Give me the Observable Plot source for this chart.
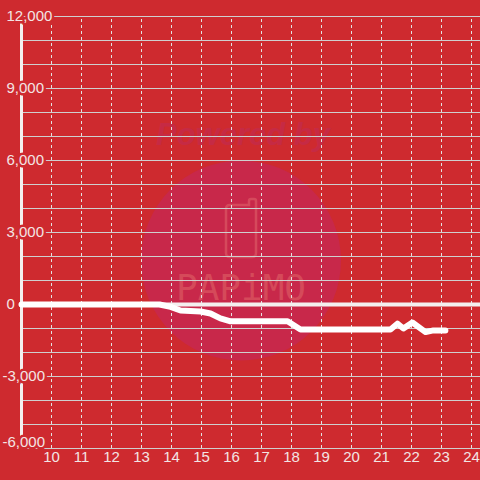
<!DOCTYPE html>
<html>
<head>
<meta charset="utf-8">
<script src="https://cdn.jsdelivr.net/npm/d3@7"></script>
<script src="https://cdn.jsdelivr.net/npm/@observablehq/plot@0.6"></script>
<style>
  html, body { margin: 0; padding: 0; background: #ce2a2f; }
  #chart { width: 480px; height: 480px; }
</style>
</head>
<body>
<div id="chart"></div>
<script>
// ---- data ----
const hours = [9, 13.6, 13.97, 14.3, 14.97, 15.3, 15.63, 15.97, 17.87, 18.3, 21.3, 21.53, 21.73, 22.03, 22.47, 22.73, 23.13];
const values = [0, 0, -100, -250, -290, -375, -580, -700, -700, -1040, -1040, -800, -1000, -750, -1150, -1080, -1080];
const xTicks = [10, 11, 12, 13, 14, 15, 16, 17, 18, 19, 20, 21, 22, 23, 24];
const yTicks = [12000, 9000, 6000, 3000, 0, -3000, -6000];
const yGrid = d3.range(-6000, 12001, 1000);

const data = hours.map((h, i) => ({hour: h, value: values[i]}));

const BG = "#ce2a2f";
const LABEL = "#f3e4e4";
const font = "Liberation Sans, Arial, sans-serif";
const fmt = d => d.toLocaleString("en-US");

const chart = Plot.plot({
  width: 480,
  height: 480,
  marginLeft: 21,
  marginRight: 0,
  marginTop: 16,
  marginBottom: 32,
  style: {background: BG, fontFamily: font, fontSize: "15px", overflow: "visible"},
  x: {domain: [9, 24.3], axis: null},
  y: {domain: [-6000, 12000], axis: null},
  marks: [
    // watermark
    Plot.dot([0], {frameAnchor: "middle", r: 100, fill: "#c8284a", stroke: "none", dx: -10, dy: 28}),
    Plot.text(["Powered by"], {frameAnchor: "middle", dx: -8, dy: -97, fill: "#c62a44",
      fontSize: 31, fontWeight: "bold", fontStyle: "italic", fontFamily: font}),
    Plot.text(["PAPiMO"], {frameAnchor: "middle", dx: -10, dy: 56, fill: "#d54a5a",
      fontSize: 36, fontFamily: "DejaVu Sans Mono, monospace", letterSpacing: "1px"}),
    // grid
    Plot.ruleY(yGrid.filter(d => d !== 0), {y: d => d, stroke: "#cfcfcf", strokeWidth: 1}),
    Plot.ruleX(xTicks, {x: d => d, y1: -6000, y2: 12000, stroke: "#e2e2e2", strokeWidth: 1, strokeDasharray: "3,3"}),
    Plot.ruleY([0], {stroke: "#f4efef", strokeWidth: 4}),
    Plot.ruleX([9], {y1: -6000, y2: 12000, stroke: "#f4efef", strokeWidth: 3}),
    // series
    Plot.line(data, {x: "hour", y: "value", stroke: "#ffffff", strokeWidth: 6}),
    // y labels
    Plot.text(yTicks.filter(d => d >= 0), {y: d => d, text: fmt, frameAnchor: "left", dx: -15,
      textAnchor: "start", fill: LABEL, stroke: BG, strokeWidth: 5, fontSize: 15}),
    Plot.text(yTicks.filter(d => d < 0 && d > -6000), {y: d => d, text: fmt, frameAnchor: "left", dx: -19,
      textAnchor: "start", fill: LABEL, stroke: BG, strokeWidth: 5, fontSize: 15}),
    Plot.text(yTicks.filter(d => d === -6000), {y: d => d, text: fmt, frameAnchor: "left", dx: -19, dy: -6,
      textAnchor: "start", fill: LABEL, stroke: BG, strokeWidth: 5, fontSize: 15}),
    // x labels
    Plot.text(xTicks, {x: d => d, text: d => String(d), frameAnchor: "bottom", dy: 13,
      fill: LABEL, fontSize: 15})
  ]
});

// phone icon of the watermark (decoration)
const svg = d3.select(chart);
const wm = svg.insert("g", ":nth-child(5)");
wm.append("path")
  .attr("d", "M230,205 H249 V201 Q249,199 251,199 H254 Q256,199 256,201 V253 Q256,257 252,257 H230 Q226,257 226,253 V209 Q226,205 230,205 Z")
  .attr("fill", "none")
  .attr("stroke", "#d5495c")
  .attr("stroke-width", 2.5);

document.getElementById("chart").appendChild(chart);
</script>
</body>
</html>
